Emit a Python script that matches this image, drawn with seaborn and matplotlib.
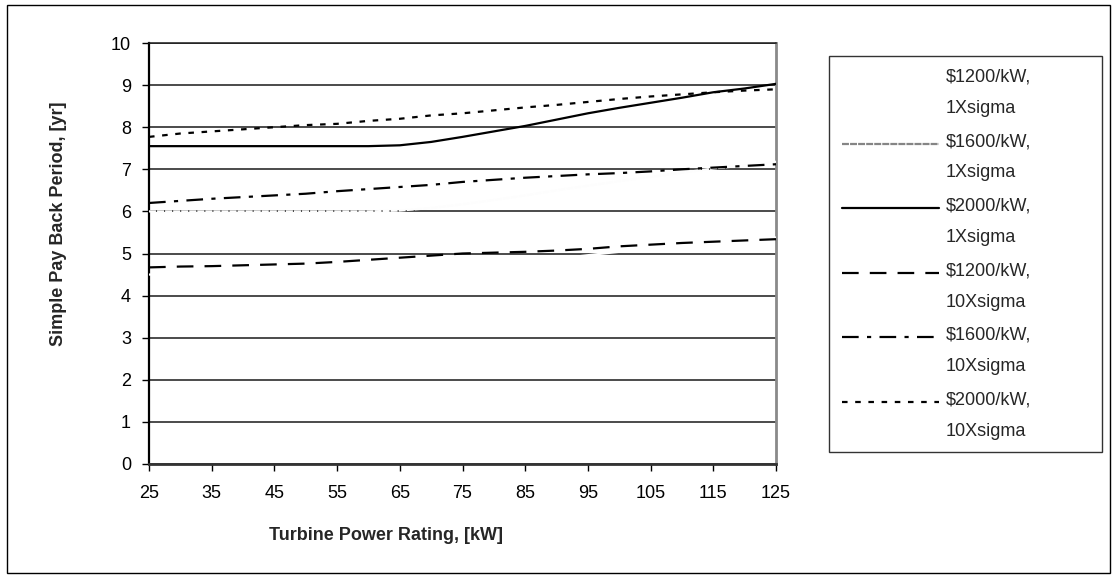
import numpy as np
import pandas as pd
import matplotlib
matplotlib.use("Agg")
import matplotlib.pyplot as plt
from matplotlib.lines import Line2D
from matplotlib.patches import Rectangle
from matplotlib.legend_handler import HandlerLine2D
import seaborn as sns

# Turbine rating (kW) and simple payback period (years) for each cost / sigma case
rating_kw = [25, 30, 35, 40, 45, 50, 55, 60, 65, 70, 75, 80, 85, 90, 95, 100, 105, 110, 115, 120, 125]

pb_1200_1x = [4.50, 4.50, 4.50, 4.50, 4.50, 4.50, 4.50, 4.50, 4.51, 4.56, 4.63, 4.71, 4.79,
              4.87, 4.96, 5.04, 5.11, 5.19, 5.26, 5.32, 5.38]
pb_1600_1x = [6.00, 6.00, 6.00, 6.00, 6.00, 6.00, 6.00, 6.00, 6.02, 6.08, 6.17, 6.27, 6.38,
              6.50, 6.61, 6.72, 6.82, 6.92, 7.02, 7.09, 7.18]
pb_2000_1x = [7.55, 7.55, 7.55, 7.55, 7.55, 7.55, 7.55, 7.55, 7.57, 7.65, 7.77, 7.90, 8.03,
              8.18, 8.33, 8.46, 8.58, 8.70, 8.83, 8.92, 9.03]
pb_1200_10x = [4.67, 4.69, 4.70, 4.72, 4.74, 4.76, 4.80, 4.85, 4.90, 4.95, 5.00, 5.02, 5.04,
               5.07, 5.11, 5.17, 5.21, 5.25, 5.28, 5.31, 5.34]
pb_1600_10x = [6.20, 6.25, 6.30, 6.34, 6.38, 6.42, 6.48, 6.53, 6.58, 6.63, 6.70, 6.75, 6.80,
               6.84, 6.88, 6.91, 6.95, 7.00, 7.04, 7.08, 7.12]
pb_2000_10x = [7.77, 7.85, 7.90, 7.95, 8.00, 8.05, 8.08, 8.15, 8.20, 8.28, 8.33, 8.40, 8.47,
               8.53, 8.60, 8.67, 8.73, 8.78, 8.83, 8.87, 8.90]

series_labels = ["\\$1200/kW,\n1Xsigma", "\\$1600/kW,\n1Xsigma", "\\$2000/kW,\n1Xsigma",
                 "\\$1200/kW,\n10Xsigma", "\\$1600/kW,\n10Xsigma", "\\$2000/kW,\n10Xsigma"]
series_values = [pb_1200_1x, pb_1600_1x, pb_2000_1x, pb_1200_10x, pb_1600_10x, pb_2000_10x]

x_ticks = [25, 35, 45, 55, 65, 75, 85, 95, 105, 115, 125]
y_ticks = list(range(0, 11))

sns.set_style("ticks")
plt.rcParams["font.family"] = ["Liberation Sans", "DejaVu Sans"]
plt.rcParams["lines.scale_dashes"] = False

# line styles: (plot colour, legend colour, linestyle)
styles = [
    ("#ffffff", "#ffffff", "-"),
    ("#fdfdfd", "#858585", (0, (5, 0.8))),
    ("#000000", "#000000", "-"),
    ("#000000", "#000000", (0, (12, 8))),
    ("#000000", "#000000", (0, (12, 6, 3, 6))),
    ("#000000", "#000000", (0, (4, 5.5))),
]

fig = plt.figure(figsize=(11.17, 5.79), dpi=100)
ax = fig.add_axes([149 / 1117, 1 - 464 / 579, (776 - 149) / 1117, (464 - 43) / 579])

for vals, (pc, lc, ls) in zip(series_values, styles):
    df = pd.DataFrame({"rating": rating_kw, "payback": vals})
    sns.lineplot(data=df, x="rating", y="payback", ax=ax, color=pc, linestyle=ls,
                 linewidth=1.6, errorbar=None, zorder=3)

ax.set_xlim(25, 125)
ax.set_ylim(0, 10)
ax.set_xticks(x_ticks)
ax.set_yticks(y_ticks)
ax.set_axisbelow(True)
ax.yaxis.grid(True, color="#1a1a1a", linewidth=1.1)
ax.xaxis.grid(False)

ax.spines["left"].set_color("#000000")
ax.spines["left"].set_linewidth(1.6)
ax.spines["bottom"].set_color("#333333")
ax.spines["bottom"].set_linewidth(2.0)
ax.spines["right"].set_visible(True)
ax.spines["right"].set_color("#8a8a8a")
ax.spines["right"].set_linewidth(2.0)
ax.spines["top"].set_visible(True)
ax.spines["top"].set_color("#1a1a1a")
ax.spines["top"].set_linewidth(1.1)

ax.tick_params(axis="both", direction="out", length=5, width=1.0, color="#000000",
               labelsize=13, labelcolor="#000000")
ax.tick_params(axis="y", pad=8)
ax.tick_params(axis="x", pad=10)

ax.set_xlabel("Turbine Power Rating, [kW]", fontsize=13, fontweight="bold")
ax.set_ylabel("Simple Pay Back Period, [yr]", fontsize=13, fontweight="bold")
ax.xaxis.set_label_coords((386 - 149) / 627, (464 - 527) / 421)
ax.yaxis.set_label_coords((67 - 149) / 627, (464 - 224) / 421)


class FirstLineHandler(HandlerLine2D):
    """Place the legend sample level with the first line of a two-line label."""

    def __init__(self, shift, **kw):
        super().__init__(**kw)
        self.shift = shift

    def create_artists(self, legend, orig_handle, xdescent, ydescent, width, height,
                       fontsize, trans):
        arts = super().create_artists(legend, orig_handle, xdescent, ydescent, width,
                                      height, fontsize, trans)
        for a in arts:
            a.set_ydata(np.asarray(a.get_ydata()) + self.shift)
        return arts


handles = [Line2D([], [], color=lc, linestyle=ls, linewidth=1.6) for (_, lc, ls) in styles]
half_pitch_pt = 14 * 72 / 100
leg = fig.legend(handles, series_labels, loc="upper left",
                 bbox_to_anchor=(829 / 1117, 1 - 56 / 579, (1102 - 829) / 1117, 0.0),
                 mode="expand", borderaxespad=0, fontsize=13, frameon=True, fancybox=False,
                 shadow=False, handlelength=5.4, handletextpad=0.35, borderpad=0.7,
                 labelspacing=0.9,
                 handler_map={Line2D: FirstLineHandler(half_pitch_pt)})
leg.get_frame().set_edgecolor("#000000")
leg.get_frame().set_linewidth(1.0)
for t in leg.get_texts():
    t.set_linespacing(2.1)

# outer border of the chart area
fig.patches.append(Rectangle((7 / 1117, 1 - 573 / 579), (1110 - 7) / 1117, (573 - 5) / 579,
                             transform=fig.transFigure, fill=False, edgecolor="#000000",
                             linewidth=1.0))

fig.savefig("out.png", dpi=100, facecolor="white")
